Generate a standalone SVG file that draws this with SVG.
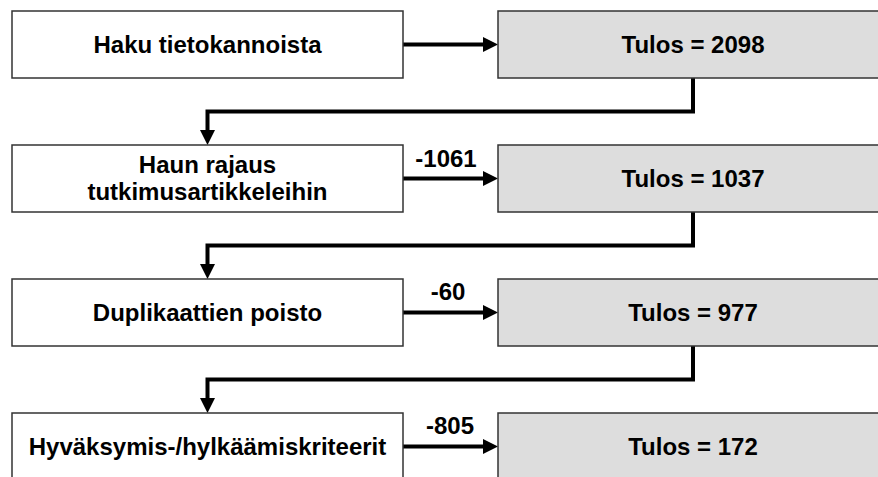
<svg xmlns="http://www.w3.org/2000/svg" width="878" height="477" viewBox="0 0 878 477">
<defs>
<style>
.step rect{fill:#ffffff;stroke:#333333;stroke-width:1.5}
.res rect{fill:#dddddd;stroke:#333333;stroke-width:1.5}
text{font-family:"Liberation Sans",Arial,Helvetica,sans-serif;font-weight:bold;font-size:24px;fill:#000000;text-anchor:middle}
.conn{fill:none;stroke:#000000;stroke-width:4;stroke-linejoin:miter;marker-end:url(#ah)}
</style>
<marker id="ah" markerUnits="userSpaceOnUse" markerWidth="15" markerHeight="15" refX="0" refY="7.5" orient="auto">
<path d="M0,0 L15,7.5 L0,15 Z" fill="#000000"/>
</marker>
</defs>
<rect width="878" height="477" fill="#ffffff"/>

<g id="connectors">
<path class="conn" d="M403,44.5 H483"/>
<path class="conn" d="M403,178.5 H483"/>
<path class="conn" d="M403,312.5 H483"/>
<path class="conn" d="M403,446.5 H483"/>
<path class="conn" d="M693,78 V111.5 H207.5 V130"/>
<path class="conn" d="M693,212 V245.5 H207.5 V264"/>
<path class="conn" d="M693,346 V379.5 H207.5 V398"/>
<text x="446" y="167">-1061</text>
<text x="448" y="300">-60</text>
<text x="450" y="434">-805</text>
</g>

<g id="n1" class="step"><rect x="12" y="11" width="391" height="67"/><text x="207.5" y="53">Haku tietokannoista</text></g>
<g id="r1" class="res"><rect x="498" y="11" width="390" height="67"/><text x="693" y="53">Tulos = 2098</text></g>

<g id="n2" class="step"><rect x="12" y="145" width="391" height="67"/><text x="207.5" y="173">Haun rajaus</text><text x="207.5" y="200">tutkimusartikkeleihin</text></g>
<g id="r2" class="res"><rect x="498" y="145" width="390" height="67"/><text x="693" y="187">Tulos = 1037</text></g>

<g id="n3" class="step"><rect x="12" y="279" width="391" height="67"/><text x="207.5" y="321">Duplikaattien poisto</text></g>
<g id="r3" class="res"><rect x="498" y="279" width="390" height="67"/><text x="693" y="321">Tulos = 977</text></g>

<g id="n4" class="step"><rect x="12" y="413" width="391" height="67"/><text x="207.5" y="455">Hyväksymis-/hylkäämiskriteerit</text></g>
<g id="r4" class="res"><rect x="498" y="413" width="390" height="67"/><text x="693" y="455">Tulos = 172</text></g>
</svg>
